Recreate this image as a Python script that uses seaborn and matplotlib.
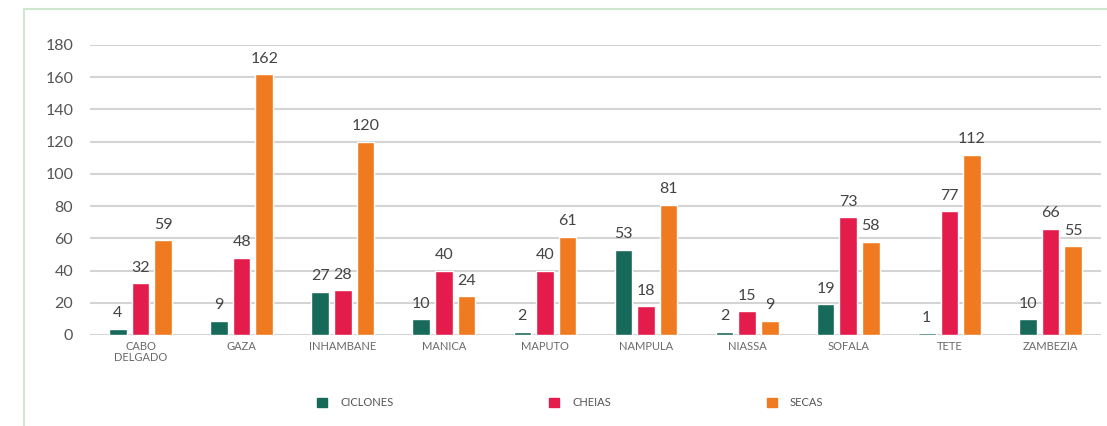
import numpy as np
import pandas as pd
import matplotlib
matplotlib.use("Agg")
import matplotlib.pyplot as plt
import seaborn as sns
from matplotlib.patches import Rectangle

# ---- data ----
provinces = ["CABO\nDELGADO", "GAZA", "INHAMBANE", "MANICA", "MAPUTO",
             "NAMPULA", "NIASSA", "SOFALA", "TETE", "ZAMBEZIA"]
series = ["CICLONES", "CHEIAS", "SECAS"]
ciclones = [4, 9, 27, 10, 2, 53, 2, 19, 1, 10]
cheias = [32, 48, 28, 40, 40, 18, 15, 73, 77, 66]
secas = [59, 162, 120, 24, 61, 81, 9, 58, 112, 55]
yticks = [0, 20, 40, 60, 80, 100, 120, 140, 160, 180]
colors = ["#17695a", "#e41c4b", "#f07a1f"]

df = pd.DataFrame({
    "prov": provinces * 3,
    "tipo": [s for s in series for _ in provinces],
    "val": ciclones + cheias + secas,
})

sns.set_theme(style="white")
plt.rcParams["font.family"] = ["Lato", "DejaVu Sans"]

fig = plt.figure(figsize=(11.07, 4.26), dpi=100)
fig.patch.set_facecolor("white")
# light green frame (left and top)
fig.add_artist(plt.Line2D([24 / 1107, 24 / 1107], [0, 1 - 9 / 426],
                          transform=fig.transFigure, color="#cfe6cf", lw=1.5))
fig.add_artist(plt.Line2D([24 / 1107, 1], [1 - 9 / 426, 1 - 9 / 426],
                          transform=fig.transFigure, color="#cfe6cf", lw=1.5))

ax = fig.add_axes([90 / 1107, 1 - 335 / 426, 1011 / 1107, 290 / 426])
sns.barplot(data=df, x="prov", y="val", hue="tipo", order=provinces,
            hue_order=series, palette=colors, width=0.67, gap=0.22,
            saturation=1, ax=ax, legend=False)

ax.set_ylim(0, 180)
ax.set_xlim(-0.5, 9.5)
ax.set_yticks(yticks)
ax.yaxis.grid(True, color="#d4d4d4", lw=1.5)
ax.set_axisbelow(True)
for s in ax.spines.values():
    s.set_visible(False)
ax.set_xlabel("")
ax.set_ylabel("")
ax.tick_params(axis="y", labelsize=11.5, labelcolor="#555555", length=0, pad=12)
ax.tick_params(axis="x", labelsize=8, labelcolor="#6a6a6a", length=0, pad=4)
for lbl in ax.get_xticklabels():
    lbl.set_linespacing(1.1)

for cont in ax.containers:
    ax.bar_label(cont, fmt="%d", padding=6, fontsize=11.5, color="#444444")

handles = [Rectangle((0, 0), 1, 1, color=c) for c in colors]
fig.legend(handles, series, loc="center", bbox_to_anchor=(0.515, 1 - 403 / 426),
           ncol=3, frameon=False, fontsize=8, labelcolor="#555555",
           handlelength=0.9, handleheight=0.9, columnspacing=14, handletextpad=1.2)

fig.savefig("out.png", dpi=100)
